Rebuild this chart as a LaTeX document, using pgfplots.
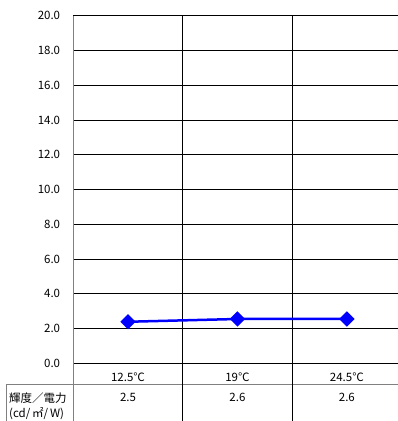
\documentclass[border=0pt]{standalone}
\usepackage{fontspec}
\setmainfont{Noto Sans CJK JP}
\usepackage{pgfplots}
\pgfplotsset{compat=1.18}
\definecolor{axgray}{RGB}{128,128,128}
\begin{document}
\fontsize{11.5}{13.8}\selectfont
\begin{tikzpicture}[x=1pt,y=1pt]
\path[use as bounding box, clip] (0,0) rectangle (398,421);
\begin{axis}[
  at={(73.3pt,57.7pt)}, anchor=south west,
  scale only axis, width=328.3pt, height=347.6pt,
  xmin=0, xmax=3, ymin=0, ymax=20,
  axis x line=bottom, axis y line=left,
  axis line style={-},
  x axis line style={black, line width=0.8pt},
  y axis line style={axgray, line width=1.6pt},
  ytick={0,2,...,20},
  ymajorgrids,
  major grid style={black, line width=0.8pt},
  xtick={0.5,1.5,2.5},
  xticklabels={12.5℃,19℃,24.5℃},
  minor xtick={1,2},
  xminorgrids,
  minor grid style={black, line width=0.8pt},
  major tick length=0pt, minor tick length=0pt,
  /pgf/number format/assume math mode=true,
  yticklabel style={/pgf/number format/.cd, fixed, fixed zerofill, precision=1, /tikz/.cd, anchor=east, inner sep=0pt, xshift=-13pt},
  xticklabel style={anchor=base, inner sep=0pt, yshift=-17.7pt},
  extra x ticks={0.5,1.5,2.5},
  extra x tick labels={2.5,2.6,2.6},
  extra x tick style={grid=none, major tick length=0pt, xticklabel style={yshift=-20.5pt}},
  clip=false,
]
\addplot[color={rgb,255:red,0;green,0;blue,255}, line width=2.5pt, mark=square*, mark size=4.2pt, mark options={rotate=45, solid}]
  coordinates {(0.5,2.39) (1.5,2.55) (2.5,2.55)};
\end{axis}
\draw[axgray, line width=1pt] (6.7,36.5) -- (398,36.5);
\draw[axgray, line width=1pt] (6.7,36.5) -- (6.7,0);
\draw[axgray, line width=1.6pt] (73.3,57.7) -- (73.3,0);
\draw[black, line width=0.8pt] (182.7,57.7) -- (182.7,0);
\draw[black, line width=0.8pt] (292.2,57.7) -- (292.2,0);
\node[anchor=west, inner sep=0pt] at (9,23) {輝度／電力};
\node[anchor=west, inner sep=0pt] at (9,7) {(cd/\,㎡/\,W)};
\end{tikzpicture}
\end{document}
